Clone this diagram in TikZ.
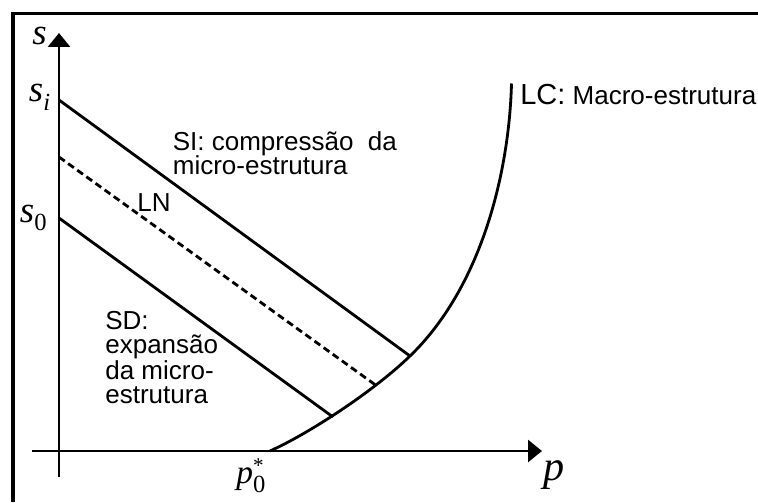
\documentclass[tikz,border=0pt]{standalone}
\usepackage{fontspec}
\setmainfont{Liberation Sans}
\newfontfamily\tnr{Liberation Serif}
\usetikzlibrary{arrows.meta}
\newcommand{\mvar}[1]{{\tnr\itshape #1}}
\newcommand{\lowidx}[1]{\raisebox{-5pt}{\fontsize{14}{14}\selectfont #1}}

\begin{document}
\begin{tikzpicture}[x=1cm,y=1cm,>={Triangle[length=0.28cm,width=0.44cm]}]
		\tikzset{curve/.style={line width=1.6pt},
			lbl/.style={inner sep=0pt,align=left,font=\fontsize{14.8}{14.2}\selectfont}}
		\useasboundingbox (-1.18,-1.02) rectangle (13.98,9.02);
		\draw[line width=1.8pt] (-0.92,-1.02) -- (-0.92,8.75) -- (13.98,8.75);
		% axes
		\coordinate (O) at (0,0);
		\coordinate (ybot) at (0,-0.52);
		\coordinate (ytop) at (0,8.36);
		\coordinate (xleft) at (-0.54,0);
		\coordinate (xright) at (9.66,0);
		\draw[->,line width=1.6pt] (ybot)--(ytop);
		\draw[->,line width=1.6pt] (xleft)--(xright);
		\node[inner sep=0pt,font=\fontsize{21}{21}\selectfont] (slab) at (-0.39,8.31) {\mvar{s}};
		\node[inner sep=0pt,anchor=base west,font=\fontsize{24}{24}\selectfont] (plab) at (9.68,-0.58) {\mvar{p}};
		% lines
		\coordinate (si) at (0,7.02);
		\coordinate (sn) at (0,5.88);
		\coordinate (s0) at (0,4.66);
		\coordinate (lc0) at (4.22,0);
		\coordinate (lc1) at (5.48,0.68);
		\coordinate (lc2) at (6.33,1.32);
		\coordinate (lc3) at (7.02,1.9);
		\coordinate (lctop) at (9.05,7.35);
		\draw[curve] (si)--(lc3);
		\draw[curve,dash pattern=on 4pt off 2.4pt] (sn)--(lc2);
		\draw[curve] (s0)--(lc1);
		\draw[curve] (lc0) .. controls (5.0,0.35) and (6.3,1.2) .. (lc3)
		.. controls (8.42,3.25) and (9.0,5.5) .. (lctop);
		\node[inner sep=0pt,anchor=base east,font=\fontsize{21}{21}\selectfont] (silab) at (-0.17,6.98) {\mvar{s}\lowidx{\mvar{i}}};
		\node[inner sep=0pt,anchor=base east,font=\fontsize{21}{21}\selectfont] (s0lab) at (-0.24,4.58) {\mvar{s}\lowidx{\tnr 0}};
		\node[inner sep=0pt,anchor=base west,font=\fontsize{19}{19}\selectfont] (p0lab) at (3.54,-0.65) {\mvar{p}\rlap{\raisebox{6pt}{\fontsize{12}{12}\selectfont\tnr *}}\lowidx{\tnr 0}};
		% labels
		\node[lbl,anchor=base west] (silbl) at (2.27,5.52) {SI: compressão~ da\\ micro-estrutura};
		\node[lbl,anchor=base west] (lnlbl) at (1.56,4.78) {LN};
		\node[lbl,anchor=base west,font=\fontsize{14.8}{13.4}\selectfont] (sdlbl) at (0.92,0.96) {SD:\\ expansão\\ da micro-\\ estrutura};
		\node[lbl,anchor=base west] (lclbl) at (9.22,6.92) {{\fontsize{16.5}{16}\selectfont LC:} Macro-estrutura};
\end{tikzpicture}
\end{document}
